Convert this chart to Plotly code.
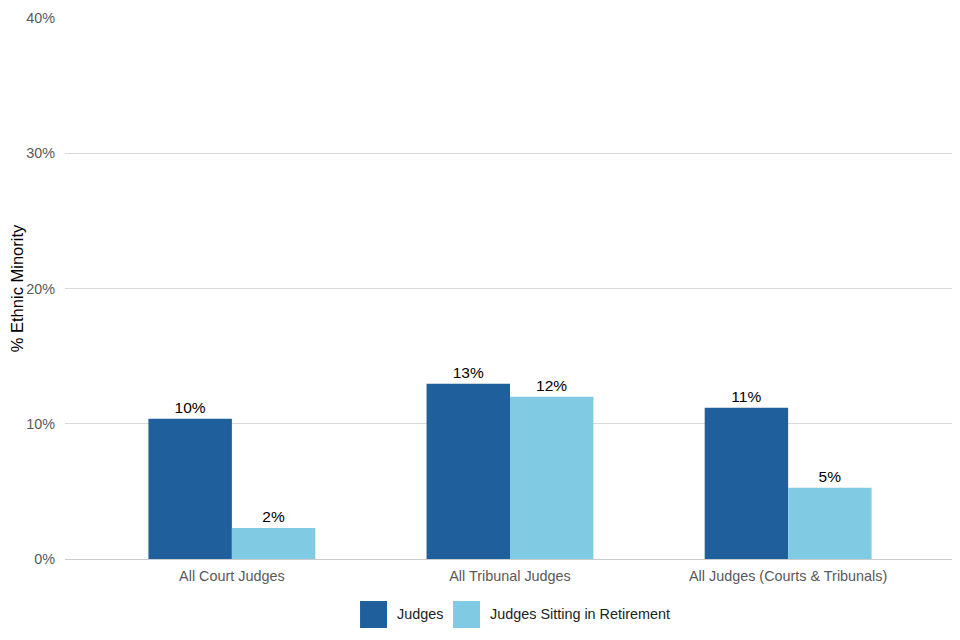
import plotly.graph_objects as go

categories = ["All Court Judges", "All Tribunal Judges", "All Judges (Courts & Tribunals)"]
series_names = ["Judges", "Judges Sitting in Retirement"]
judges = [10.37, 12.96, 11.19]
retired = [2.3, 12.0, 5.26]
colors = ["#1f5f9c", "#80cae4"]
y_ticks = [0, 10, 20, 30, 40]
y_tick_labels = ["0%", "10%", "20%", "30%", "40%"]

FONT = "Liberation Sans, Arial, sans-serif"

fig = go.Figure()
for name, vals, col in zip(series_names, [judges, retired], colors):
    fig.add_trace(go.Bar(
        x=categories, y=vals, name=name, marker=dict(color=col, line=dict(width=0)),
        text=[f"{round(v)}%" for v in vals], textposition="outside",
        textfont=dict(family=FONT, size=15.5, color="#000000"),
        cliponaxis=False, showlegend=False,
        hovertemplate="%{x}: %{y:.1f}%<extra>" + name + "</extra>",
    ))

# custom legend (large square swatches)
legend_items = [(series_names[0], colors[0], 0.3315, 0.3705), (series_names[1], colors[1], 0.436, 0.4755)]
for name, col, x0, xt in legend_items:
    fig.add_shape(type="rect", xref="paper", yref="paper", x0=x0, x1=x0 + 0.0303,
                  y0=-0.1275, y1=-0.0776, fillcolor=col, line=dict(width=0))
    fig.add_annotation(xref="paper", yref="paper", x=xt, y=-0.1025, text=name, showarrow=False,
                       xanchor="left", yanchor="middle",
                       font=dict(family=FONT, size=14.4, color="#222222"))

fig.update_layout(
    width=952, height=632,
    margin=dict(l=57, r=5, t=10, b=81, autoexpand=False),
    paper_bgcolor="white", plot_bgcolor="white",
    barmode="group", bargap=0.4, bargroupgap=0,
    font=dict(family=FONT, size=14.4, color="#595959"),
    showlegend=False,
    xaxis=dict(range=[-0.6, 2.6], showgrid=False, showline=True, linecolor="#cccccc", linewidth=1,
               automargin=False,
               tickfont=dict(family=FONT, size=14.4, color="#595959"), ticks="", ticklabelstandoff=4),
    yaxis=dict(range=[0, 40], tickvals=y_ticks, ticktext=y_tick_labels, showgrid=True,
               gridcolor="#d9d9d9", gridwidth=1, zeroline=False, showline=False, automargin=False,
               tickfont=dict(family=FONT, size=14.4, color="#595959"), ticks="", ticklabelstandoff=9,
               title=dict(text="% Ethnic Minority", font=dict(family=FONT, size=16.5, color="#000000"), standoff=3)),
)

fig.write_html("out.html")
